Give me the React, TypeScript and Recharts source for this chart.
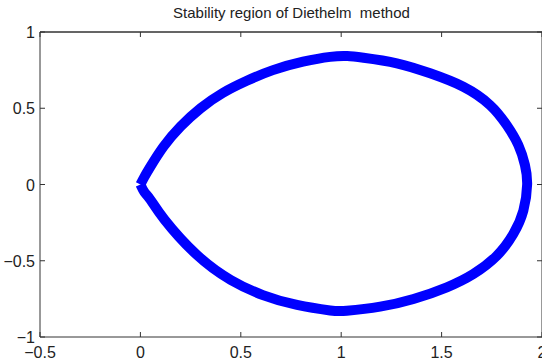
import { LineChart, Line, XAxis, YAxis, ReferenceLine } from "recharts"

// boundary: upper arc left→right, then lower arc right→left
const boundaryX = [
  0, 0.02, 0.05, 0.115, 0.2, 0.3, 0.41, 0.53, 0.66, 0.81, 0.945, 1.03, 1.111, 1.277, 1.443, 1.608, 1.741, 1.824, 1.882, 1.915, 1.926,
  1.907, 1.857, 1.775, 1.658, 1.526, 1.36, 1.194, 1.028, 0.945, 0.78, 0.61, 0.45, 0.28, 0.12, 0.05, 0.02, 0,
]
const boundaryY = [
  0, 0.05, 0.117, 0.248, 0.38, 0.5, 0.6, 0.68, 0.75, 0.805, 0.837, 0.842, 0.831, 0.795, 0.729, 0.641, 0.521, 0.39, 0.259, 0.128, 0,
  -0.172, -0.325, -0.467, -0.587, -0.674, -0.751, -0.801, -0.828, -0.826, -0.79, -0.725, -0.626, -0.46, -0.23, -0.1, -0.05, 0,
]
const xTicks = [-0.5, 0, 0.5, 1, 1.5, 2]
const yTicks = [-1, -0.5, 0, 0.5, 1]

const data = boundaryX.map((x, i) => ({ x, y: boundaryY[i] }))

const fmt = (v: number) => String(v).replace("-", "−")
const font = "'Liberation Sans', Arial, sans-serif"
const axisColor = "#333"

function BottomTick({ x, y, payload }: any) {
  return (
    <g>
      <line x1={x} y1={y} x2={x} y2={y - 5} stroke={axisColor} />
      <text x={x} y={y + 21} textAnchor="middle" fontSize={16} fill="#222" fontFamily={font}>
        {fmt(payload.value)}
      </text>
    </g>
  )
}

function TopTick({ x, y }: any) {
  return <line x1={x} y1={y} x2={x} y2={y + 5} stroke={axisColor} />
}

function LeftTick({ x, y, payload }: any) {
  return (
    <g>
      <line x1={x} y1={y} x2={x + 5} y2={y} stroke={axisColor} />
      <text x={x - 5} y={y + 6} textAnchor="end" fontSize={16} fill="#222" fontFamily={font}>
        {fmt(payload.value)}
      </text>
    </g>
  )
}

function RightTick({ x, y }: any) {
  return <line x1={x} y1={y} x2={x - 5} y2={y} stroke={axisColor} />
}

export default function App() {
  return (
    <div style={{ position: "absolute", left: 0, top: 0, width: 542, height: 364, overflow: "hidden", background: "#fff" }}>
      <div
        style={{
          position: "absolute", left: 40, width: 503, top: 4, textAlign: "center",
          fontFamily: font, fontSize: 15, lineHeight: "17px", color: "#222", whiteSpace: "pre",
        }}
      >
        Stability region of Diethelm  method
      </div>
      <LineChart width={543} height={364} data={data} margin={{ top: 31, right: 0, bottom: 0, left: 0 }}>
        <XAxis xAxisId="b" dataKey="x" type="number" domain={[-0.5, 2]} ticks={xTicks} height={27}
          tickSize={0} tickMargin={0} tick={<BottomTick />} axisLine={{ stroke: axisColor }} interval={0} allowDataOverflow />
        <XAxis xAxisId="t" orientation="top" dataKey="x" type="number" domain={[-0.5, 2]} ticks={xTicks} height={1}
          tickSize={0} tickMargin={0} tick={<TopTick />} axisLine={{ stroke: axisColor }} interval={0} allowDataOverflow />
        <YAxis yAxisId="l" type="number" domain={[-1, 1]} ticks={yTicks} width={40}
          tickSize={0} tickMargin={0} tick={<LeftTick />} axisLine={{ stroke: axisColor }} interval={0} allowDataOverflow />
        <YAxis yAxisId="r" orientation="right" type="number" domain={[-1, 1]} ticks={yTicks} width={1}
          tickSize={0} tickMargin={0} tick={<RightTick />} axisLine={{ stroke: axisColor }} interval={0} allowDataOverflow />
        <ReferenceLine xAxisId="b" yAxisId="l" y={1} stroke={axisColor} />
        <Line xAxisId="b" yAxisId="l" dataKey="y" type="natural" stroke="#0000ff" strokeWidth={10}
          strokeLinejoin="round" dot={false} isAnimationActive={false} />
      </LineChart>
    </div>
  )
}
